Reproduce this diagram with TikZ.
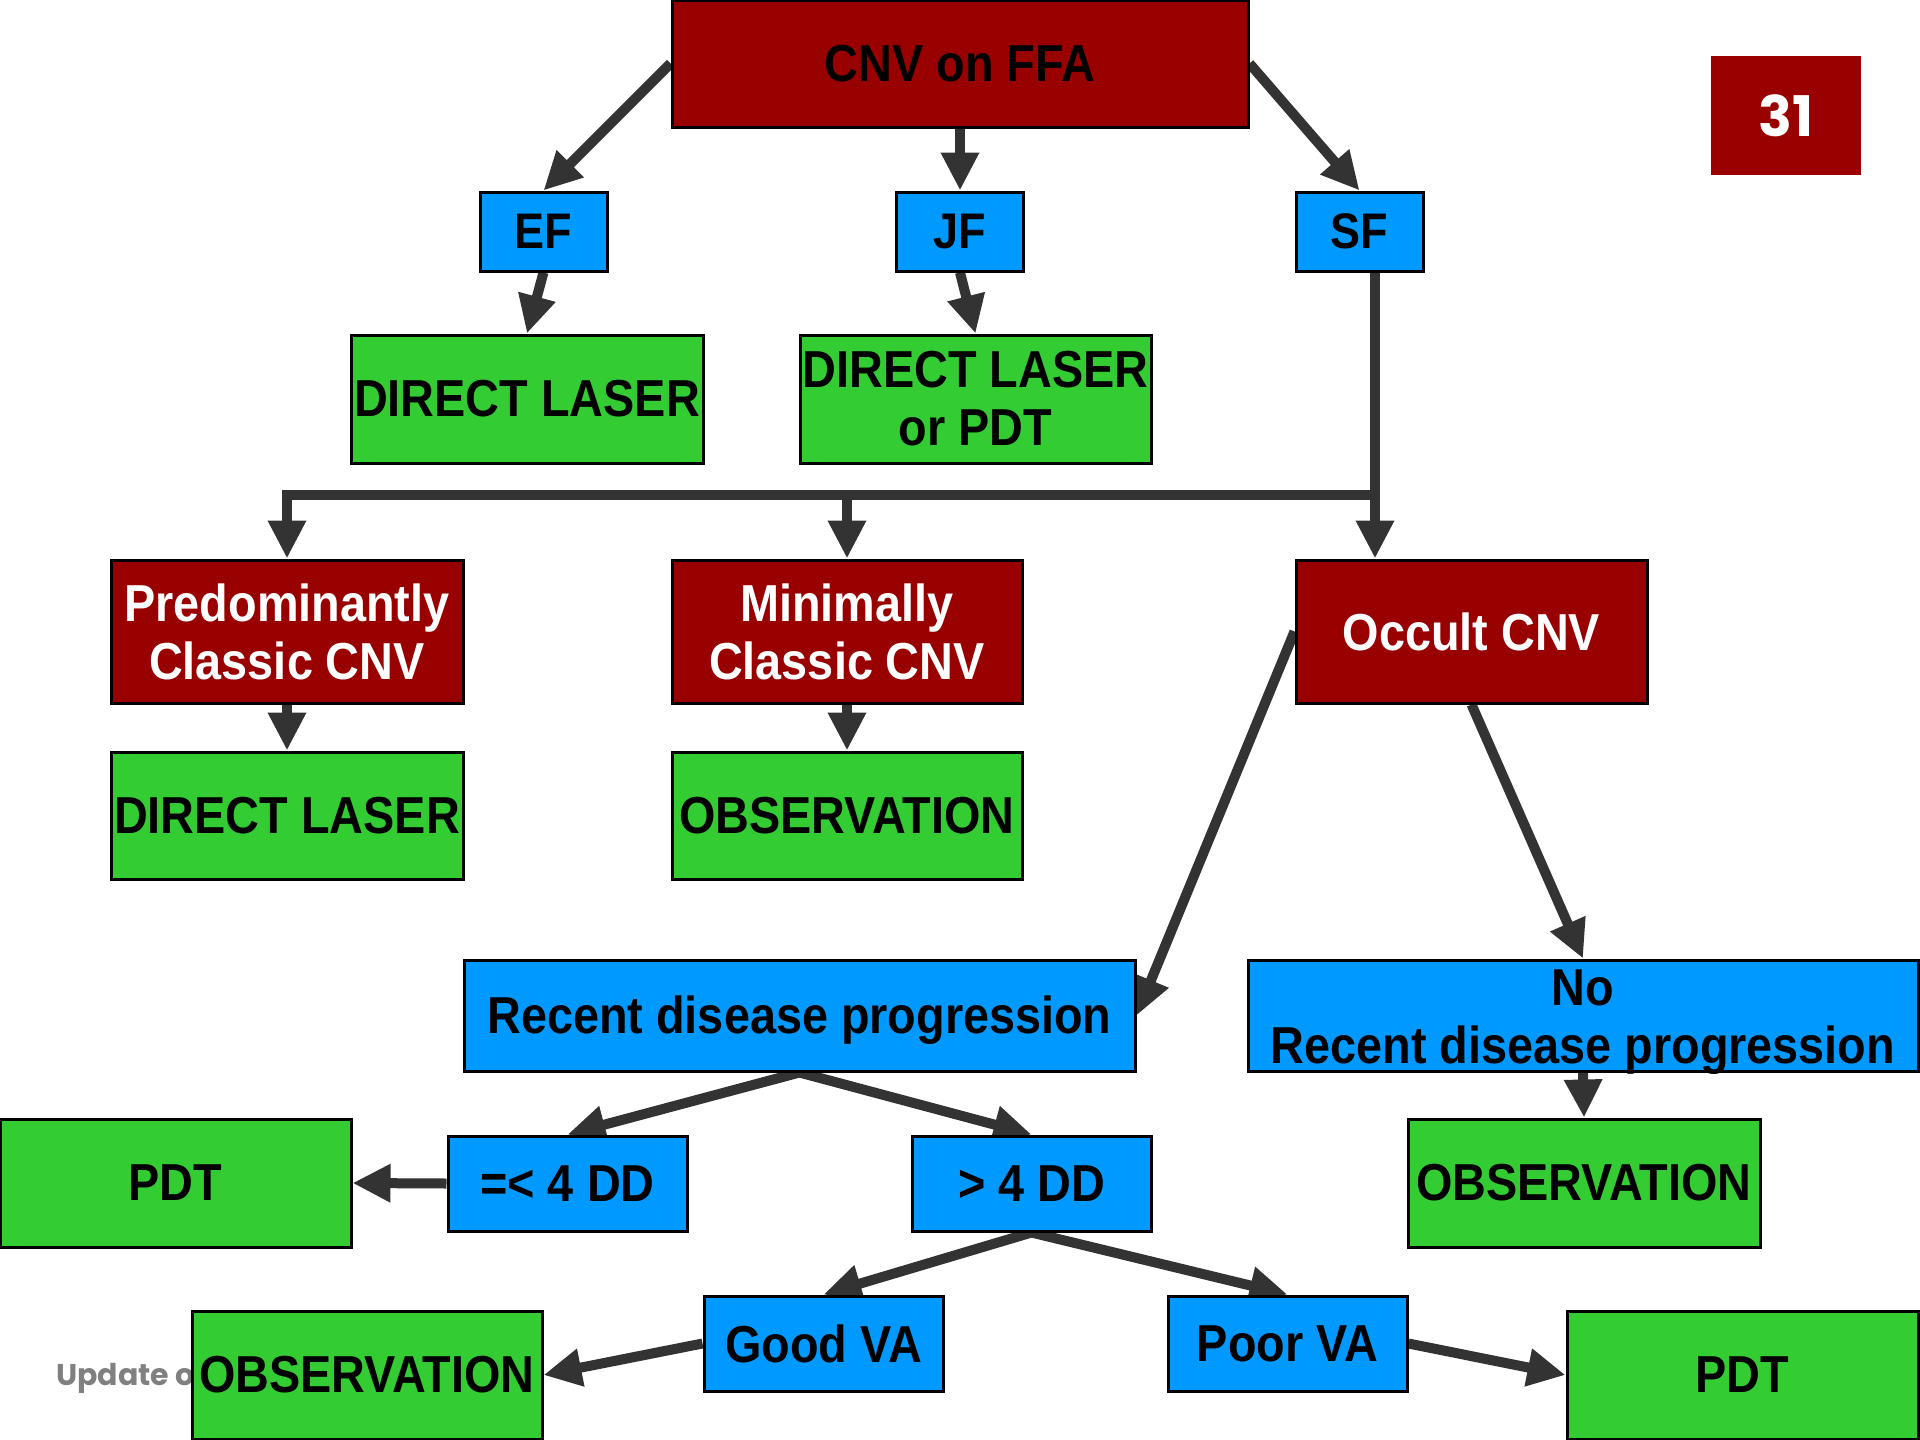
\documentclass[tikz,border=0pt]{standalone}
\usepackage{fontspec}
\setmainfont{Liberation Sans}
\newfontfamily\boxfont[FakeStretch=0.9]{Liberation Sans}
\newfontfamily\numfont{Poppins}
\usetikzlibrary{arrows.meta,backgrounds}
\definecolor{cred}{HTML}{990000}
\definecolor{cblue}{HTML}{0099FF}
\definecolor{cgreen}{HTML}{33CC33}
\definecolor{carrow}{HTML}{333333}
\definecolor{cgray}{HTML}{808080}
\begin{document}
\begin{tikzpicture}[x=1pt,y=-1pt,
 box/.style={draw=black, line width=3pt, inner sep=0pt, align=center,
   font=\boxfont\bfseries\fontsize{52}{58}\selectfont},
 redbox/.style={box, fill=cred, text=white},
 bluebox/.style={box, fill=cblue},
 greenbox/.style={box, fill=cgreen},
 smallblue/.style={bluebox, minimum width=127pt, minimum height=79pt,
   font=\boxfont\bfseries\fontsize{50}{56}\selectfont},
 arr/.style={draw=carrow, line width=10pt, line join=miter, -{Triangle[length=38pt,width=36pt]}},
]
\useasboundingbox (0,0) rectangle (1920,1440);

% nodes
\node[redbox, text=black, minimum width=576pt, minimum height=127pt] (cnv) at (960,63.5) {CNV on FFA};
\node[fill=cred, draw=none, minimum width=150pt, minimum height=119pt, inner sep=0pt,
  text=white, font=\numfont\bfseries\fontsize{56}{60}\selectfont] (num) at (1786,115.5) {31};

\node[smallblue] (ef) at (543.5,231.5) {EF};
\node[smallblue] (jf) at (960,231.5) {JF};
\node[smallblue] (sf) at (1359.5,231.5) {SF};

\node[greenbox, minimum width=352pt, minimum height=128pt] (dl1) at (527,399) {DIRECT LASER};
\node[greenbox, minimum width=351pt, minimum height=128pt] (dlpdt) at (975.5,399) {DIRECT LASER\\or PDT};

\node[redbox, minimum width=352pt, minimum height=143pt] (pred) at (287,631.5) {Predominantly\\Classic CNV};
\node[redbox, minimum width=350pt, minimum height=143pt] (minc) at (847,631.5) {Minimally\\Classic CNV};
\node[redbox, minimum width=351pt, minimum height=143pt] (occ) at (1471.5,631.5) {Occult CNV};

\node[greenbox, minimum width=352pt, minimum height=127pt] (dl2) at (287,815.5) {DIRECT LASER};
\node[greenbox, minimum width=350pt, minimum height=127pt] (obs1) at (847,815.5) {OBSERVATION};

\node[bluebox, minimum width=671pt, minimum height=111pt, text height=40pt, text depth=4pt] (rec) at (799.5,1015.5) {Recent disease progression};
\node[bluebox, minimum width=670pt, minimum height=111pt] (norec) at (1583,1015.5)
  {\raisebox{-14pt}[0pt][0pt]{\begin{tabular}{@{}c@{}}No\\Recent disease progression\end{tabular}}};

\node[greenbox, minimum width=351pt, minimum height=128pt] (pdt1) at (175.5,1183) {PDT};
\node[bluebox, minimum width=239pt, minimum height=95pt] (le4) at (567.5,1183.5) {=< 4 DD};
\node[bluebox, minimum width=239pt, minimum height=95pt] (gt4) at (1031.5,1183.5) {> 4 DD};
\node[greenbox, minimum width=352pt, minimum height=128pt] (obs3) at (1584,1183) {OBSERVATION};

\node[bluebox, minimum width=239pt, minimum height=95pt] (good) at (823.5,1343.5) {Good VA};
\node[bluebox, minimum width=239pt, minimum height=95pt] (poor) at (1287.5,1343.5) {Poor VA};

\node[greenbox, minimum width=350pt, minimum height=128pt] (obs4) at (367,1375) {OBSERVATION};
\node[greenbox, minimum width=351pt, minimum height=128pt] (pdt2) at (1742.5,1375) {PDT};

\coordinate (sfout) at (1375,271);
\coordinate (junc) at (1375,495);

\begin{scope}[on background layer]
\fill[white] (0,0) rectangle (1920,1440);
\node[anchor=base west, inner sep=0pt, text=cgray, font=\numfont\bfseries\fontsize{30}{34}\selectfont] (upd) at (56,1385) {Update on};

\draw[arr] (cnv.west) -- (ef.north);
\draw[arr] (cnv.south) -- (jf.north);
\draw[arr] (cnv.east) -- (sf.north);
\draw[arr] (ef.south) -- (dl1.north);
\draw[arr] (jf.south) -- (dlpdt.north);

\draw[arr] (sfout) -- (sfout |- occ.north);
\draw[arr] (junc) -| (pred.north);
\draw[arr] (junc) -| (minc.north);

\draw[arr] (pred.south) -- (dl2.north);
\draw[arr] (minc.south) -- (obs1.north);

\draw[arr] (occ.west) -- (rec.east);
\draw[arr] (occ.south) -- (norec.north);

\draw[arr] (rec.south) -- (le4.north);
\draw[arr] (rec.south) -- (gt4.north);
\draw[arr] (norec.south) -- (obs3.north);
\draw[arr] (le4.west) -- (pdt1.east);

\draw[arr] (gt4.south) -- (good.north);
\draw[arr] (gt4.south) -- (poor.north);
\draw[arr] (good.west) -- (obs4.east);
\draw[arr] (poor.east) -- (pdt2.west);
\end{scope}
\end{tikzpicture}
\end{document}
